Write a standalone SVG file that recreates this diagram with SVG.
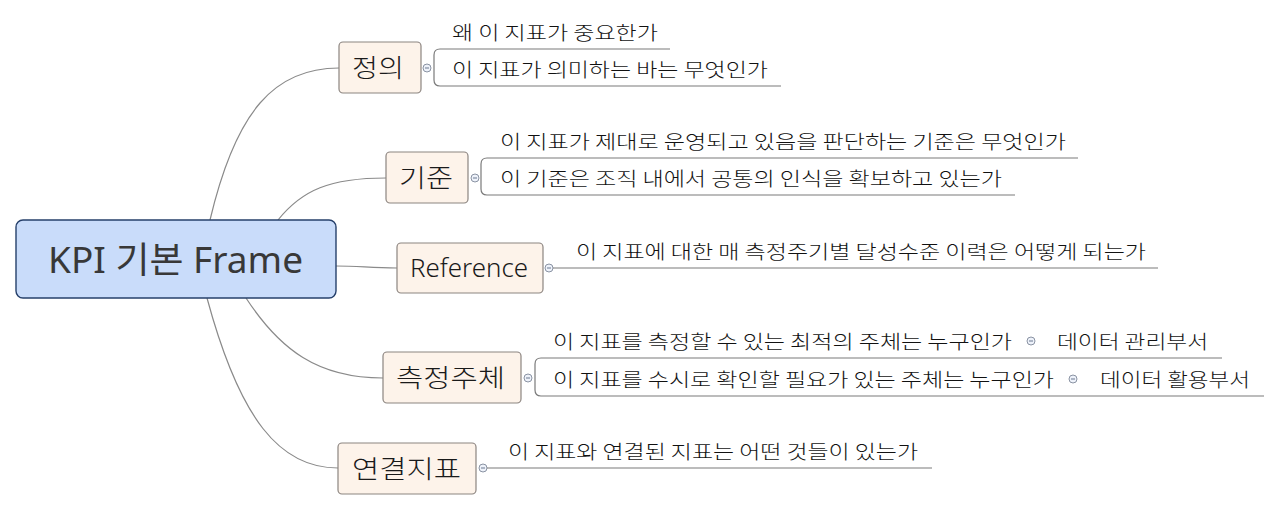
<svg xmlns="http://www.w3.org/2000/svg" width="1280" height="510" viewBox="0 0 1280 510">
<style>
.conn{fill:none;stroke:#8a8a8a;stroke-width:1.2}
.ul{fill:none;stroke:#7a7a7a;stroke-width:1.2}
.topic{fill:#fdf3ea;stroke:#8c8580;stroke-width:1.2}
.tt{font-family:"Noto Sans","Noto Sans CJK KR",sans-serif;font-size:25px;font-weight:300;fill:#1a1a1a}
.ct{font-family:"Noto Sans CJK KR","Noto Sans",sans-serif;font-size:19px;font-weight:300;fill:#111}
.tog{fill:#eef2fa;stroke:#8a93a3;stroke-width:1}
.togm{stroke:#6a7890;stroke-width:1}
</style>
<rect width="1280" height="510" fill="#ffffff"/>
<g id="connectors">
<path class="conn" d="M210,220 C236,110 275,68 339,68"/>
<path class="conn" d="M278,220 C302,190 330,178 386,178"/>
<path class="conn" d="M336,266 C360,266 370,268 397,268"/>
<path class="conn" d="M246,298 C280,350 318,378 383,378"/>
<path class="conn" d="M207,298 C240,420 280,468 338,468"/>
</g>
<g id="central">
<rect x="16" y="220" width="320" height="78" rx="7" fill="#c9dcfa" stroke="#26406b" stroke-width="1.4"/>
<text x="48" y="273" font-family="Noto Sans,Noto Sans CJK KR,sans-serif" font-size="36" fill="#383838" textLength="255" lengthAdjust="spacingAndGlyphs">KPI 기본 Frame</text>
</g>
<g id="node-jeongui">
<rect class="topic" x="339" y="42" width="82" height="51" rx="4"/>
<text class="tt" x="352" y="77" textLength="52" lengthAdjust="spacingAndGlyphs">정의</text>
<circle class="tog" cx="427" cy="68" r="4"/><line class="togm" x1="425" y1="68" x2="429" y2="68"/>
<path class="ul" d="M670,49 H440 Q434,49 434,55 V80 Q434,86 440,86 H781"/>
<text class="ct" x="452" y="40" textLength="206" lengthAdjust="spacingAndGlyphs">왜 이 지표가 중요한가</text>
<text class="ct" x="452" y="77" textLength="316" lengthAdjust="spacingAndGlyphs">이 지표가 의미하는 바는 무엇인가</text>
</g>
<g id="node-gijun">
<rect class="topic" x="386" y="152" width="82" height="51" rx="4"/>
<text class="tt" x="399" y="187" textLength="54" lengthAdjust="spacingAndGlyphs">기준</text>
<circle class="tog" cx="475" cy="178" r="4"/><line class="togm" x1="473" y1="178" x2="477" y2="178"/>
<path class="ul" d="M1078,158 H487 Q481,158 481,164 V189 Q481,195 487,195 H1015"/>
<text class="ct" x="500" y="149" textLength="566" lengthAdjust="spacingAndGlyphs">이 지표가 제대로 운영되고 있음을 판단하는 기준은 무엇인가</text>
<text class="ct" x="500" y="186" textLength="502" lengthAdjust="spacingAndGlyphs">이 기준은 조직 내에서 공통의 인식을 확보하고 있는가</text>
</g>
<g id="node-reference">
<rect class="topic" x="397" y="243" width="146" height="50" rx="4"/>
<text class="tt" x="410" y="277" textLength="118" lengthAdjust="spacingAndGlyphs">Reference</text>
<circle class="tog" cx="549" cy="268" r="4"/><line class="togm" x1="547" y1="268" x2="551" y2="268"/>
<path class="ul" d="M553,268 H1158"/>
<text class="ct" x="576" y="259" textLength="570" lengthAdjust="spacingAndGlyphs">이 지표에 대한 매 측정주기별 달성수준 이력은 어떻게 되는가</text>
</g>
<g id="node-cheukjeong">
<rect class="topic" x="383" y="352" width="138" height="51" rx="4"/>
<text class="tt" x="396" y="387" textLength="109" lengthAdjust="spacingAndGlyphs">측정주체</text>
<circle class="tog" cx="528" cy="378" r="4"/><line class="togm" x1="526" y1="378" x2="530" y2="378"/>
<path class="ul" d="M1222,358 H541 Q535,358 535,364 V390 Q535,396 541,396 H1264"/>
<text class="ct" x="553" y="349" textLength="459" lengthAdjust="spacingAndGlyphs">이 지표를 측정할 수 있는 최적의 주체는 누구인가</text>
<circle class="tog" cx="1031" cy="341" r="4"/><line class="togm" x1="1029" y1="341" x2="1033" y2="341"/>
<text class="ct" x="1057" y="349" textLength="151" lengthAdjust="spacingAndGlyphs">데이터 관리부서</text>
<text class="ct" x="553" y="387" textLength="501" lengthAdjust="spacingAndGlyphs">이 지표를 수시로 확인할 필요가 있는 주체는 누구인가</text>
<circle class="tog" cx="1073" cy="379" r="4"/><line class="togm" x1="1071" y1="379" x2="1075" y2="379"/>
<text class="ct" x="1100" y="387" textLength="150" lengthAdjust="spacingAndGlyphs">데이터 활용부서</text>
</g>
<g id="node-yeongyeol">
<rect class="topic" x="338" y="443" width="138" height="51" rx="4"/>
<text class="tt" x="352" y="478" textLength="109" lengthAdjust="spacingAndGlyphs">연결지표</text>
<circle class="tog" cx="483" cy="468" r="4"/><line class="togm" x1="481" y1="468" x2="485" y2="468"/>
<path class="ul" d="M487,468 H932"/>
<text class="ct" x="508" y="459" textLength="410" lengthAdjust="spacingAndGlyphs">이 지표와 연결된 지표는 어떤 것들이 있는가</text>
</g>
</svg>
